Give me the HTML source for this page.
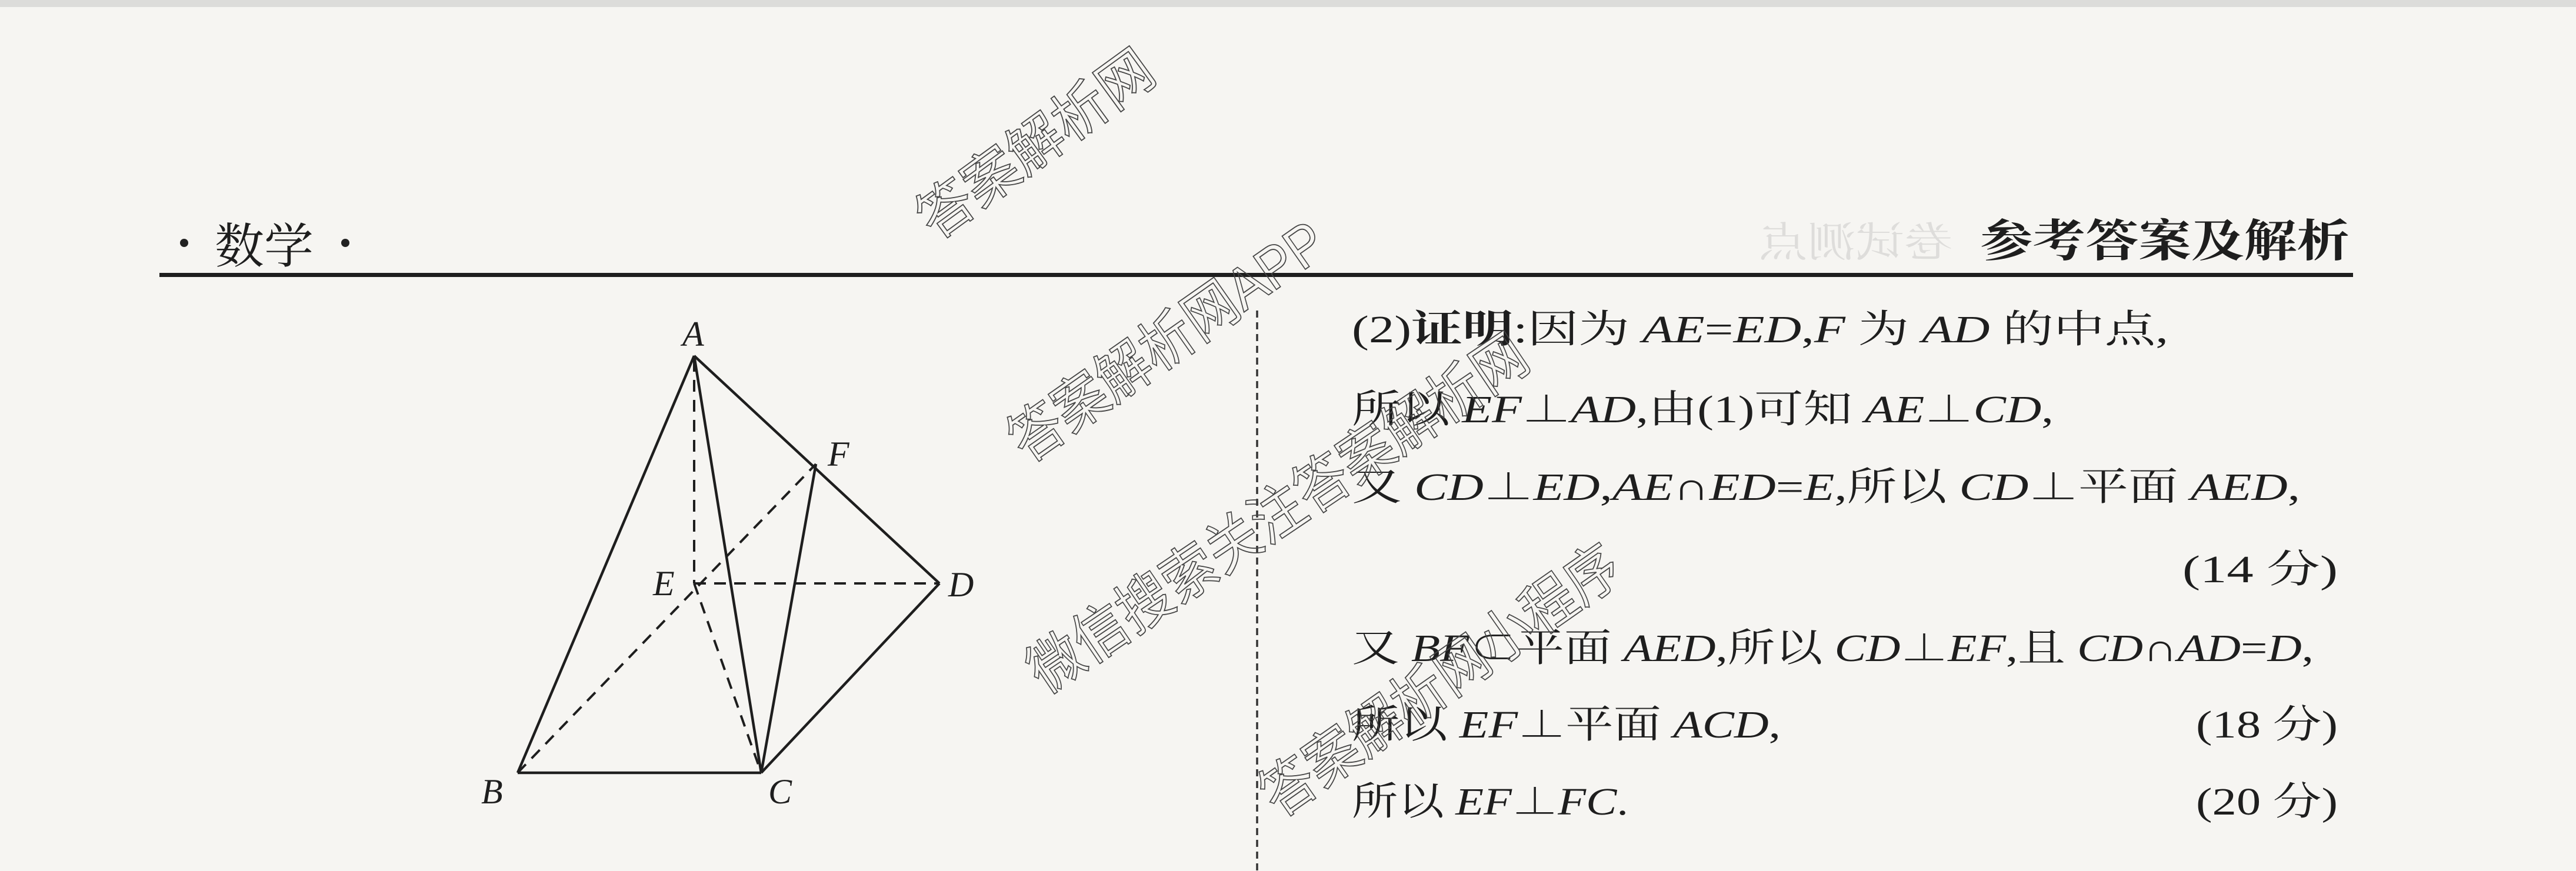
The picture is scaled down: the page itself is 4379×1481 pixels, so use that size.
<!DOCTYPE html>
<html><head><meta charset="utf-8"><style>
html,body{margin:0;padding:0;background:#f6f5f2;}
svg{display:block;}
.t{font-family:"Liberation Serif","Noto Serif CJK SC",serif;fill:#1e1e1e;}
.m{font-family:"Liberation Serif","Noto Serif CJK SC",serif;font-style:italic;}
.wm{font-family:"Liberation Sans","Noto Sans CJK SC",sans-serif;fill:none;stroke:#444;stroke-width:1.8;}
</style></head><body>
<svg width="4379" height="1481" viewBox="0 0 4379 1481" xmlns="http://www.w3.org/2000/svg">
<rect width="4379" height="1481" fill="#f6f5f2"/>
<rect width="4379" height="12" fill="#dcdcda"/>
<!-- header -->
<circle cx="313" cy="413" r="7" fill="#222"/>
<text class="t" x="365" y="447" font-size="82" textLength="168" lengthAdjust="spacingAndGlyphs" font-family="Noto Serif CJK SC">数学</text>
<circle cx="587" cy="413" r="7" fill="#222"/>
<text class="t" x="3366" y="436" font-size="76" font-weight="bold" textLength="628" lengthAdjust="spacingAndGlyphs">参考答案及解析</text>
<text x="-3320" y="436" transform="scale(-1,1)" font-size="70" style="fill:#dedddb;font-family:'Noto Serif CJK SC',serif" textLength="330" lengthAdjust="spacingAndGlyphs">卷试测点</text>
<rect x="271" y="464" width="3729" height="7" fill="#1e1e1e"/>
<!-- dashed separator -->
<line x1="2137" y1="528" x2="2137" y2="1481" stroke="#333" stroke-width="3.5" stroke-dasharray="12 8"/>
<!-- figure -->
<g stroke="#1e1e1e" stroke-width="4.5" fill="none" stroke-linejoin="round">
<line x1="1180" y1="605" x2="880" y2="1314"/>
<line x1="1180" y1="605" x2="1597" y2="992"/>
<line x1="1180" y1="605" x2="1294" y2="1314"/>
<line x1="1597" y1="992" x2="1294" y2="1314"/>
<line x1="880" y1="1314" x2="1294" y2="1314"/>
<line x1="1387" y1="789" x2="1294" y2="1314"/>
</g>
<g stroke="#1e1e1e" stroke-width="4" fill="none" stroke-dasharray="20 14">
<line x1="1180" y1="612" x2="1180" y2="992"/>
<line x1="1180" y1="992" x2="1597" y2="992"/>
<line x1="880" y1="1314" x2="1387" y2="789"/>
<line x1="1180" y1="992" x2="1294" y2="1314"/>
</g>
<g class="m" font-size="60" fill="#1e1e1e">
<text x="1160" y="588">A</text>
<text x="1110" y="1012">E</text>
<text x="1612" y="1014">D</text>
<text x="1407" y="792">F</text>
<text x="818" y="1366">B</text>
<text x="1306" y="1366">C</text>
</g>
<!-- proof text -->
<g class="t" font-size="66">
<text x="2298" y="582" textLength="1388" lengthAdjust="spacingAndGlyphs">(2)<tspan font-weight="bold">证明</tspan>:因为 <tspan class="m">AE</tspan>=<tspan class="m">ED</tspan>,<tspan class="m">F</tspan> 为 <tspan class="m">AD</tspan> 的中点,</text>
<text x="2298" y="718" textLength="1193" lengthAdjust="spacingAndGlyphs">所以 <tspan class="m">EF</tspan>⊥<tspan class="m">AD</tspan>,由(1)可知 <tspan class="m">AE</tspan>⊥<tspan class="m">CD</tspan>,</text>
<text x="2298" y="850" textLength="1612" lengthAdjust="spacingAndGlyphs">又 <tspan class="m">CD</tspan>⊥<tspan class="m">ED</tspan>,<tspan class="m">AE</tspan>∩<tspan class="m">ED</tspan>=<tspan class="m">E</tspan>,所以 <tspan class="m">CD</tspan>⊥平面 <tspan class="m">AED</tspan>,</text>
<text x="3710" y="990" textLength="264" lengthAdjust="spacingAndGlyphs">(14 分)</text>
<text x="2298" y="1124" textLength="1635" lengthAdjust="spacingAndGlyphs">又 <tspan class="m">BF</tspan>⊂平面 <tspan class="m">AED</tspan>,所以 <tspan class="m">CD</tspan>⊥<tspan class="m">EF</tspan>,且 <tspan class="m">CD</tspan>∩<tspan class="m">AD</tspan>=<tspan class="m">D</tspan>,</text>
<text x="2298" y="1254" textLength="729" lengthAdjust="spacingAndGlyphs">所以 <tspan class="m">EF</tspan>⊥平面 <tspan class="m">ACD</tspan>,</text>
<text x="3733" y="1254" textLength="241" lengthAdjust="spacingAndGlyphs">(18 分)</text>
<text x="2298" y="1385" textLength="470" lengthAdjust="spacingAndGlyphs">所以 <tspan class="m">EF</tspan>⊥<tspan class="m">FC</tspan>.</text>
<text x="3733" y="1385" textLength="241" lengthAdjust="spacingAndGlyphs">(20 分)</text>
</g>
<!-- watermarks -->
<g class="wm">
<text font-size="96" transform="translate(1590,410) rotate(-36)" textLength="470" lengthAdjust="spacingAndGlyphs">答案解析网</text>
<text font-size="100" transform="translate(1746,789) rotate(-35)" textLength="630" lengthAdjust="spacingAndGlyphs">答案解析网APP</text>
<text font-size="100" transform="translate(1777,1181) rotate(-34)" textLength="1000" lengthAdjust="spacingAndGlyphs">微信搜索关注答案解析网</text>
<text font-size="100" transform="translate(2174,1392) rotate(-35)" textLength="720" lengthAdjust="spacingAndGlyphs">答案解析网小程序</text>
</g>
</svg>
</body></html>
